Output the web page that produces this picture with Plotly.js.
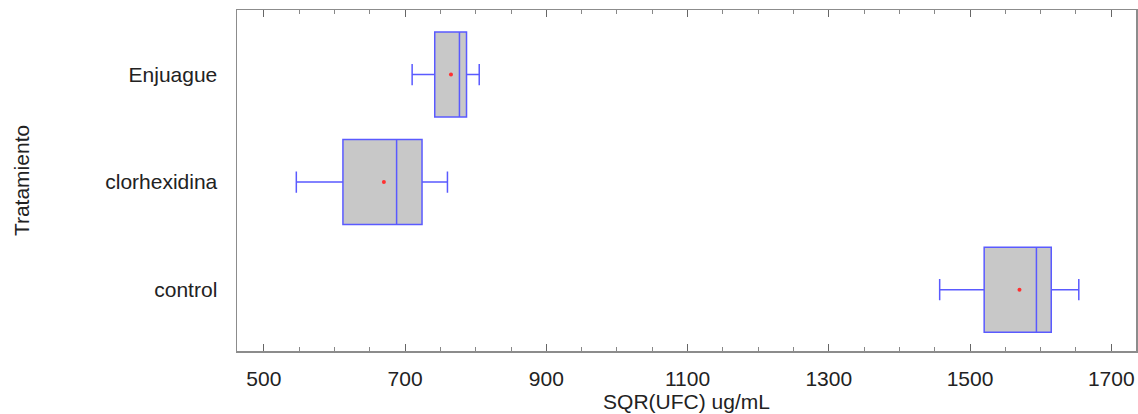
<!DOCTYPE html>
<html>
<head>
<meta charset="utf-8">
<script src="https://cdn.plot.ly/plotly-3.0.1.min.js"></script>
<style>html,body{margin:0;padding:0;background:#fff;}#chart{width:1138px;height:414px;}</style>
</head>
<body>
<div id="chart"></div>
<script>
var categories = ["Enjuague", "clorhexidina", "control"];
var lowerWhisker = [710, 546, 1457];
var q1Values = [742, 612, 1520];
var medianValues = [777, 688, 1594];
var q3Values = [787, 724, 1615];
var upperWhisker = [805, 760, 1654];
var meanValues = [765, 670, 1570];
var xTickVals = [500, 700, 900, 1100, 1300, 1500, 1700];

var boxTrace = {
  type: "box",
  orientation: "h",
  y: categories,
  q1: q1Values,
  median: medianValues,
  q3: q3Values,
  lowerfence: lowerWhisker,
  upperfence: upperWhisker,
  width: 0.79,
  whiskerwidth: 0.25,
  fillcolor: "#c8c8c8",
  line: {color: "#5a5aff", width: 1.5},
  boxpoints: false,
  showlegend: false,
  hoverinfo: "skip"
};

var meanTrace = {
  type: "scatter",
  mode: "markers",
  x: meanValues,
  y: categories,
  marker: {color: "#ff3030", size: 4},
  showlegend: false,
  hoverinfo: "skip"
};

var layout = {
  width: 1138,
  height: 414,
  margin: {l: 237, r: 2, t: 10, b: 63},
  paper_bgcolor: "#ffffff",
  plot_bgcolor: "#ffffff",
  font: {family: "Liberation Sans, Arial, sans-serif", size: 22, color: "#222222"},
  xaxis: {
    range: [462, 1735],
    tickvals: xTickVals,
    ticktext: xTickVals.map(String),
    ticks: "inside",
    ticklen: 7,
    tickcolor: "#666666",
    tickwidth: 1,
    minor: {dtick: 50, tick0: 0, ticks: "inside", ticklen: 4, tickcolor: "#888888", tickwidth: 1, showgrid: false},
    showgrid: false,
    zeroline: false,
    showline: true,
    linecolor: "#8c8c8c",
    linewidth: 1.5,
    mirror: "ticks",
    ticklabelstandoff: 8,
    tickfont: {size: 21, color: "#222222"},
    title: {text: "SQR(UFC) ug/mL", font: {size: 21, color: "#222222"}, standoff: 4}
  },
  yaxis: {
    type: "category",
    categoryorder: "array",
    categoryarray: ["control", "clorhexidina", "Enjuague"],
    range: [-0.57, 2.6],
    ticks: "",
    showgrid: false,
    zeroline: false,
    showline: true,
    linecolor: "#8c8c8c",
    linewidth: 1.5,
    mirror: true,
    ticklabelstandoff: 14,
    tickfont: {size: 21, color: "#222222"},
    title: {text: "Tratamiento", font: {size: 21, color: "#222222"}, standoff: 70}
  }
};

Plotly.newPlot("chart", [boxTrace, meanTrace], layout, {displayModeBar: false, staticPlot: true});
</script>
</body>
</html>
